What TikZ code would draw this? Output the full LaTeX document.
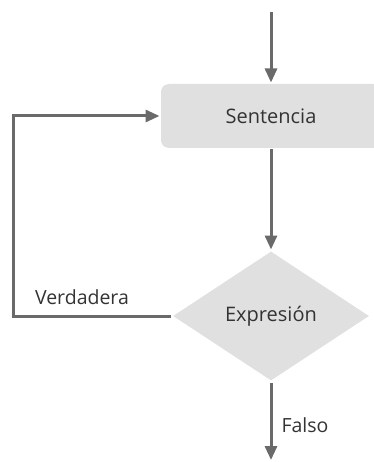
\documentclass[tikz,border=0pt]{standalone}
\usepackage{fontspec}
\setmainfont{Open Sans}
\usetikzlibrary{arrows.meta, positioning, shapes.geometric}
\definecolor{flowline}{HTML}{6A6A6A}
\definecolor{flowfill}{HTML}{E0E0E0}
\definecolor{flowtext}{HTML}{333333}

\begin{document}
\begin{tikzpicture}[x=1pt, y=-1pt, line width=3pt, draw=flowline,
	font=\fontsize{20}{24}\selectfont, text=flowtext,
	->, >={Triangle[width=12pt, length=14pt]},
	stmt/.style={rectangle, rounded corners=8pt, fill=flowfill, draw=none,
		minimum width=220pt, minimum height=64pt},
	cond/.style={diamond, fill=flowfill, draw=none, inner sep=0pt,
		minimum width=197pt, minimum height=130pt},
	lbl/.style={font=\fontsize{19.5}{23}\selectfont}]
		\useasboundingbox (0,0) rectangle (373,462);
		\node[stmt]	(sent)	at (271,116)	{Sentencia};
		\node[cond]	(expr)	at (271,316)	{Expresión};
		\coordinate	(in)	at (271,12);
		\coordinate	(out)	at (271,460);
		\coordinate	(back)	at (13,316);
		\node[lbl]	(verd)	at (82,297)	{Verdadera};
		\node[lbl]	(fals)	at (305,425)	{Falso};
		\draw	(in)	--	(sent.north);
		\draw	(sent.south)	--	(expr.north);
		\draw	(expr.south)	--	(out);
		\draw	(expr.west)	--	(back)	|-	(sent.west);
\end{tikzpicture}
\end{document}
